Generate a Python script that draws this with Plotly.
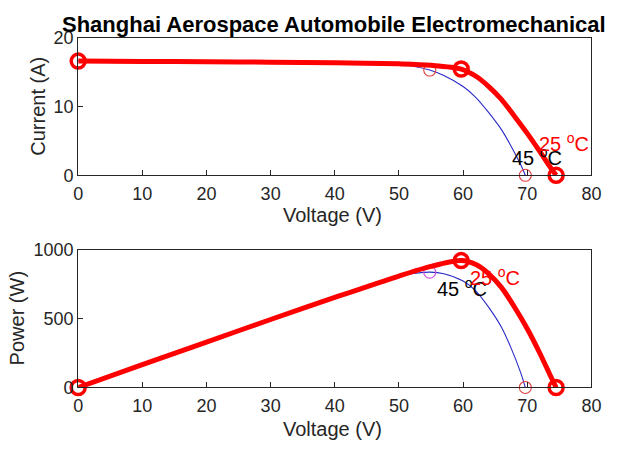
import plotly.graph_objects as go

# ---- data ----
V25 = [0, 10, 20, 30, 40, 50, 55, 59.7, 62, 64, 66, 68, 70, 72, 73.5, 74.5]
I25 = [16.6, 16.55, 16.5, 16.45, 16.35, 16.2, 16.0, 15.45, 14.4, 12.9, 11.0, 8.6, 6.1, 3.4, 1.3, 0]
P25 = [0, 166, 330, 494, 654, 810, 880, 922, 893, 826, 726, 585, 427, 245, 96, 0]

V45 = [0, 10, 20, 30, 40, 50, 52, 54.8, 57, 60, 62, 64, 66, 67.5, 69, 69.7]
I45 = [16.65, 16.6, 16.55, 16.45, 16.35, 16.1, 15.9, 15.3, 14.5, 12.9, 11.3, 9.1, 6.6, 4.2, 1.5, 0]
P45 = [0, 166, 331, 494, 654, 805, 827, 838, 827, 774, 701, 582, 436, 284, 104, 0]

# key points: short-circuit, maximum power, open-circuit
KEY25_V = [0, 59.7, 74.5]
KEY25_I = [16.6, 15.45, 0]
KEY25_P = [0, 922, 0]
KEY45_V = [54.8, 69.7]
KEY45_I = [15.3, 0]
KEY45_P = [838, 0]

X_TICKS = [0, 10, 20, 30, 40, 50, 60, 70, 80]
I_TICKS = [0, 10, 20]
P_TICKS = [0, 500, 1000]

TITLE = "Shanghai Aerospace Automobile Electromechanical"

W, H = 618, 451
xl, xr = 75, 601
top_y = (29, 173)
bot_y = (251, 395)

RED = "#ff0000"
BLUE = "#2a2ac8"
AX = "#262626"
FONT = "Liberation Sans, Arial, sans-serif"

fig = go.Figure()

def add_pair(xa, ya, Vb, Yb, Vr, Yr, KVr, KYr, KVb, KYb, bcolors):
    fig.add_trace(go.Scatter(x=Vb, y=Yb, mode="lines", xaxis=xa, yaxis=ya,
                             line=dict(color=BLUE, width=1.1, shape="spline", smoothing=0.8),
                             showlegend=False, hoverinfo="skip"))
    fig.add_trace(go.Scatter(x=KVb, y=KYb, mode="markers", xaxis=xa, yaxis=ya, cliponaxis=False,
                             marker=dict(symbol="circle-open", size=12, color=bcolors,
                                         line=dict(width=1.1)),
                             showlegend=False, hoverinfo="skip"))
    fig.add_trace(go.Scatter(x=Vr, y=Yr, mode="lines", xaxis=xa, yaxis=ya,
                             line=dict(color=RED, width=5, shape="spline", smoothing=0.8),
                             showlegend=False, hoverinfo="skip"))
    fig.add_trace(go.Scatter(x=KVr, y=KYr, mode="markers", xaxis=xa, yaxis=ya, cliponaxis=False,
                             marker=dict(symbol="circle-open", size=14, color=RED,
                                         line=dict(width=3.5)),
                             showlegend=False, hoverinfo="skip"))

add_pair("x", "y", V45, I45, V25, I25, KEY25_V, KEY25_I, KEY45_V, KEY45_I, ["#e04040", "#e04040"])
add_pair("x2", "y2", V45, P45, V25, P25, KEY25_V, KEY25_P, KEY45_V, KEY45_P, ["#d050e0", "#e04040"])

def py(p):
    return 1 - p / H

axis_common = dict(showgrid=False, zeroline=False, showline=True, mirror=True,
                   linecolor=AX, linewidth=1, ticks="inside", ticklen=5, tickcolor=AX,
                   tickfont=dict(family=FONT, size=18, color=AX))

xdom = [xl / W, xr / W]
fig.update_layout(
    width=W, height=H, margin=dict(l=0, r=0, t=0, b=0),
    paper_bgcolor="white", plot_bgcolor="white",
    xaxis=dict(domain=xdom, range=[0, 80], tickvals=X_TICKS, anchor="y",
               ticklabelstandoff=2, **axis_common),
    yaxis=dict(domain=[py(top_y[1]), py(top_y[0])], range=[0, 20], tickvals=I_TICKS,
               anchor="x", **axis_common),
    xaxis2=dict(domain=xdom, range=[0, 80], tickvals=X_TICKS, anchor="y2",
                ticklabelstandoff=2, **axis_common),
    yaxis2=dict(domain=[py(bot_y[1]), py(bot_y[0])], range=[0, 1000], tickvals=P_TICKS,
                anchor="x2", **axis_common),
)

ann = []
def t(text, x, y, size, color="black", bold=False, angle=0, xref="paper", yref="paper",
      xanchor="center", yanchor="middle"):
    ann.append(dict(text=("<b>%s</b>" % text) if bold else text, x=x, y=y, xref=xref, yref=yref,
                    showarrow=False, xanchor=xanchor, yanchor=yanchor, textangle=angle,
                    font=dict(family=FONT, size=size, color=color)))

t(TITLE, 337 / W, py(15), 22, bold=True)
t("Voltage (V)", 336 / W, py(215), 20, color=AX)
t("Voltage (V)", 336 / W, py(438), 20, color=AX)
t("Current (A)", 33 / W, py(101), 20, color=AX, angle=-90)
t("Power (W)", 12 / W, py(323), 20, color=AX, angle=-90)

# temperature labels (data coordinates)
t("45 <sup>o</sup>C", 67.3, 2.7, 20, xref="x", yref="y", xanchor="left")
t("25 <sup>o</sup>C", 71.5, 4.8, 20, color=RED, xref="x", yref="y", xanchor="left")
t("45 <sup>o</sup>C", 55.6, 730, 20, xref="x2", yref="y2", xanchor="left")
t("25 <sup>o</sup>C", 60.7, 810, 20, color=RED, xref="x2", yref="y2", xanchor="left")

fig.update_layout(annotations=ann)
fig.write_html("out.html")
